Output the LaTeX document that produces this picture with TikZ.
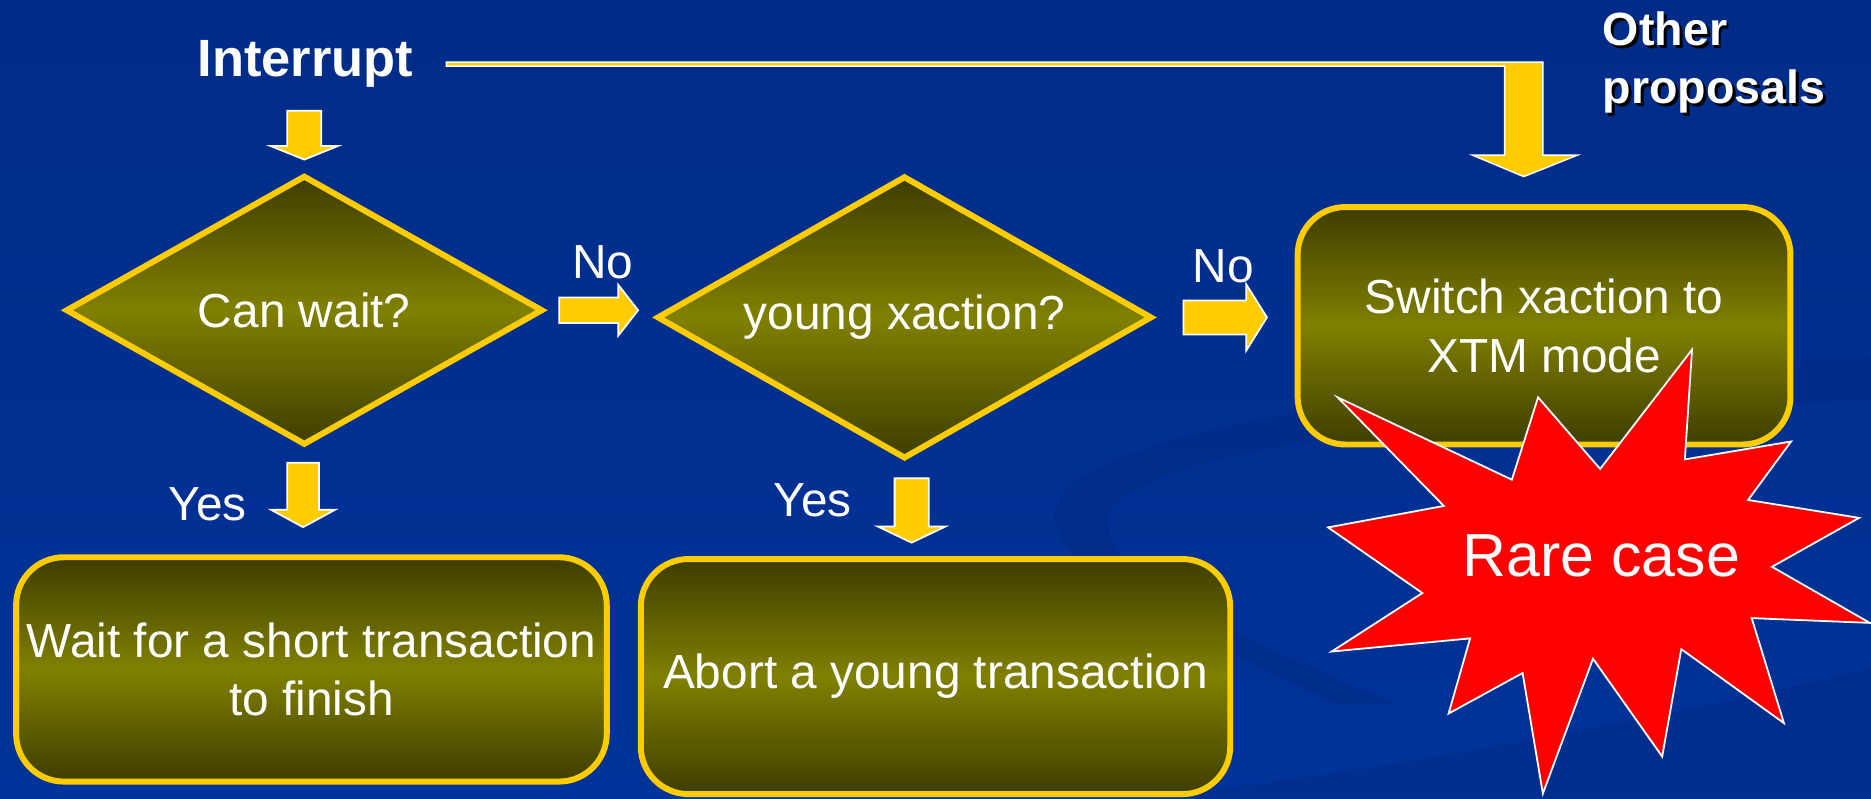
\documentclass[tikz,border=0pt]{standalone}
\usepackage{fontspec}
\setmainfont{Liberation Sans}
\usetikzlibrary{shapes.geometric,shapes.arrows}

\definecolor{sfondo}{RGB}{0,51,153}
\definecolor{sfondoscuro}{RGB}{0,44,136}
\definecolor{onda}{RGB}{0,38,120}
\definecolor{giallo}{RGB}{255,204,0}
\definecolor{oliva}{RGB}{128,128,0}
\definecolor{olivascuro}{RGB}{62,62,0}

\begin{document}
\begin{tikzpicture}[x=0.2mm,y=-0.2mm,
		testo/.style={text=white,font=\fontsize{22.8}{27.9}\selectfont},
		rombo/.style={diamond,aspect=1.75,draw=giallo,line width=1mm,top color=olivascuro,bottom color=olivascuro,middle color=oliva,inner sep=0pt,testo},
		scatola/.style={rectangle,rounded corners=8mm,draw=giallo,line width=1mm,top color=olivascuro,bottom color=olivascuro,middle color=oliva,inner sep=0pt,align=center,testo},
		freccia/.style={single arrow,draw=white,line width=0.3mm,fill=giallo,inner xsep=0pt,single arrow head indent=0pt,anchor=tail}]
		\def\pxl{0.2mm}
		\useasboundingbox (0,0) rectangle (1568,669);
		% sfondo
		\fill[top color=sfondoscuro,bottom color=sfondo] (0,0) rectangle (1568,669);
		\fill[onda,opacity=0.3] (1568,300) .. controls (1150,320) and (860,370) .. (885,440)
			.. controls (905,500) and (1040,550) .. (1120,590) -- (1170,590)
			.. controls (1030,530) and (915,480) .. (930,430)
			.. controls (960,370) and (1250,345) .. (1568,335) -- cycle;
		\fill[onda,opacity=0.25] (960,669) .. controls (1200,640) and (1400,600) .. (1568,560) -- (1568,669) -- cycle;
		% domande
		\node[rombo,minimum width=400*\pxl,minimum height=226*\pxl] (attesa) at (255,260) {Can wait?};
		\node[rombo,minimum width=415*\pxl,minimum height=237*\pxl] (giovane) at (758,266) {young xaction?};
		% azioni
		\node[scatola,minimum width=495*\pxl,minimum height=188*\pxl] (aspetta) at (261,561) {Wait for a short transaction\\to finish};
		\node[scatola,minimum width=494*\pxl,minimum height=197*\pxl] (abort) at (784,567) {Abort a young transaction};
		\node[scatola,minimum width=413*\pxl,minimum height=199*\pxl] (xtm) at (1294,273) {Switch xaction to\\XTM mode};
		% frecce
		\node[freccia,rotate=-90,minimum height=41*\pxl,inner ysep=13.5*\pxl,single arrow head extend=14*\pxl,single arrow tip angle=136] (fint) at (255,92) {};
		\node[freccia,minimum height=66*\pxl,inner ysep=10*\pxl,single arrow head extend=10.5*\pxl,single arrow tip angle=104] (fno1) at (468,260) {};
		\node[freccia,minimum height=70*\pxl,inner ysep=13.5*\pxl,single arrow head extend=13.5*\pxl,single arrow tip angle=116] (fno2) at (991,266) {};
		\node[freccia,rotate=-90,minimum height=54*\pxl,inner ysep=12.5*\pxl,single arrow head extend=13.5*\pxl,single arrow tip angle=123] (fsi1) at (254,387) {};
		\node[freccia,rotate=-90,minimum height=54*\pxl,inner ysep=13.5*\pxl,single arrow head extend=14*\pxl,single arrow tip angle=129] (fsi2) at (764,400) {};
		% etichette
		\node[testo,anchor=base] (no1) at (505,233) {No};
		\node[testo,anchor=base] (no2) at (1025,237) {No};
		\node[testo,anchor=base] (si1) at (174,436) {Yes};
		\node[testo,anchor=base] (si2) at (681,433) {Yes};
		\node[text=white,font=\fontsize{25}{30}\selectfont\bfseries,anchor=base] (interrupt) at (256,64) {Interrupt};
		\node[text=black,font=\fontsize{22.2}{27.9}\selectfont\bfseries,anchor=base west,align=left,inner sep=0pt] at (1345.5,89.5) {Other\\proposals};
		\node[text=white,font=\fontsize{22.2}{27.9}\selectfont\bfseries,anchor=base west,align=left,inner sep=0pt] (altre) at (1343,87) {Other\\proposals};
		% freccia lunga
		\draw[fill=giallo,draw=white,line width=0.25mm] (374,52) -- (1293,52) -- (1293,130) -- (1322,130) -- (1277,148)
			-- (1234,130) -- (1261,130) -- (1261,55.5) -- (374,55.5) -- cycle;
		% esplosione
		\draw[fill=red,draw=white,line width=0.3mm] (1121,333) -- (1210,424) -- (1113,442) -- (1192,497) -- (1116,546)
			-- (1232,535) -- (1214,598) -- (1276,564) -- (1293,665) -- (1335,552) -- (1393,634) -- (1409,544)
			-- (1495,606) -- (1468,518) -- (1567,522) -- (1485,475) -- (1558,434) -- (1465,419) -- (1501,370)
			-- (1412,385) -- (1418,293) -- (1341,393) -- (1289,333) -- (1267,402) -- cycle;
		\node[text=white,font=\fontsize{29}{34}\selectfont,anchor=base] (raro) at (1342,483) {Rare case};
	\end{tikzpicture}
\end{document}
